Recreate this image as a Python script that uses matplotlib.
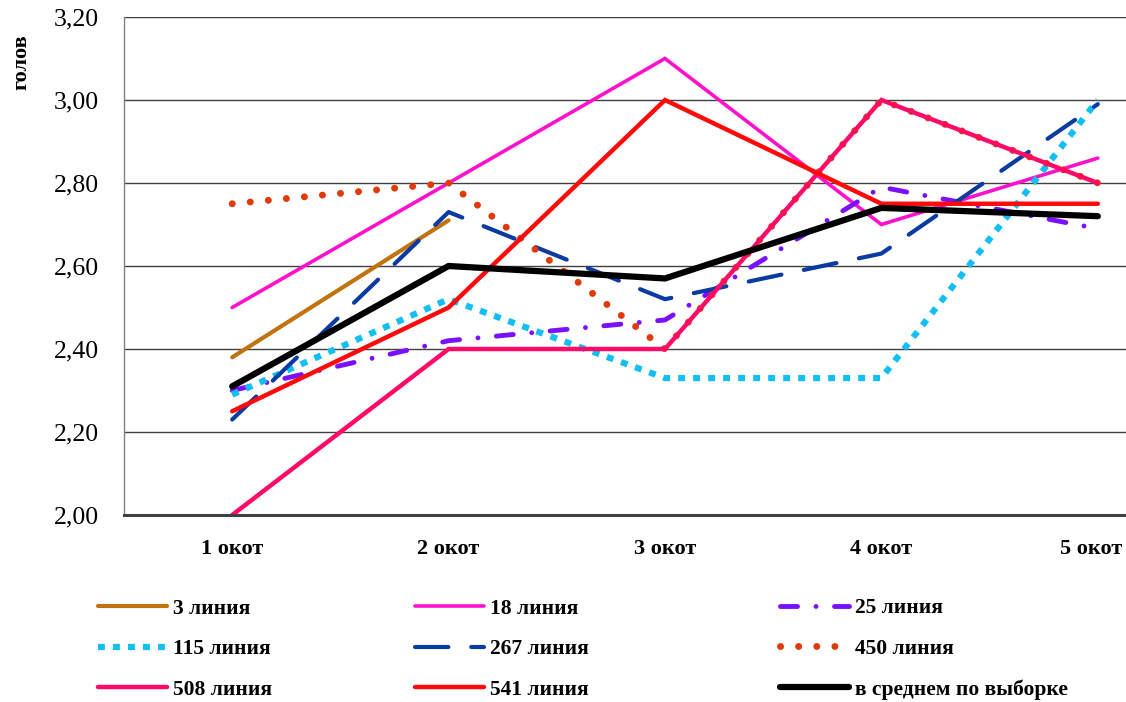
import matplotlib
matplotlib.use("Agg")
import matplotlib.pyplot as plt
from matplotlib.ticker import FuncFormatter, MultipleLocator
from matplotlib.transforms import ScaledTranslation
import numpy as np

categories = ["1 окот", "2 окот", "3 окот", "4 окот", "5 окот"]
line_3 = [2.38, 2.71, np.nan, np.nan, np.nan]
line_18 = [2.50, 2.80, 3.10, 2.70, 2.86]
line_25 = [2.30, 2.42, 2.47, 2.79, 2.69]
line_115 = [2.29, 2.52, 2.33, 2.33, 3.00]
line_267 = [2.23, 2.73, 2.52, 2.63, 2.99]
line_450 = [2.75, 2.80, 2.40, 3.00, 2.80]
line_508 = [2.00, 2.40, 2.40, 3.00, 2.80]
line_541 = [2.25, 2.50, 3.00, 2.75, 2.75]
line_avg = [2.31, 2.60, 2.57, 2.74, 2.72]
labels = ["3 линия", "18 линия", "25 линия", "115 линия", "267 линия",
          "450 линия", "508 линия", "541 линия", "в среднем по выборке"]

plt.rcParams['font.family'] = ['Liberation Serif', 'DejaVu Serif']

W, H = 1126, 702
fig = plt.figure(figsize=(W / 100, H / 100), dpi=100)
ax = fig.add_axes([124 / W, 1 - 515 / H, 1082 / W, 498 / H])

x = np.arange(len(categories))
styles = [
    dict(color="#C0730E", lw=3.0, ls="-"),
    dict(color="#FF11CC", lw=2.6, ls="-"),
    dict(color="#7A10FF", lw=3.5, ls=(0, (3.5, 3.8, 0.01, 3.8)), dash_capstyle="round"),
    dict(color="#12BFF2", lw=4.5, ls=(0, (1.1, 1.3)), dash_capstyle="butt"),
    dict(color="#0A3BA0", lw=3.0, ls=(0, (8, 5.5)), dash_capstyle="round"),
    dict(color="#E03A0A", lw=5.0, ls=(0, (0.01, 2.6)), dash_capstyle="round"),
    dict(color="#FF0A66", lw=3.2, ls="-"),
    dict(color="#FF0A0A", lw=3.2, ls="-"),
    dict(color="#000000", lw=4.5, ls="-"),
]
series = [line_3, line_18, line_25, line_115, line_267, line_450, line_508, line_541, line_avg]
handles = []
for s, st, lab in zip(series, styles, labels):
    h, = ax.plot(x, s, label=lab, solid_capstyle="round", solid_joinstyle="miter", **st)
    handles.append(h)

ax.set_xlim(-0.5, 4.5)
ax.set_ylim(2.0, 3.2)
ax.yaxis.set_major_locator(MultipleLocator(0.2))
ax.yaxis.set_major_formatter(FuncFormatter(lambda v, p: f"{v:.2f}".replace(".", ",")))
ax.set_xticks(x)
ax.set_xticklabels(categories, fontsize=16, fontweight="bold")
for t in ax.get_yticklabels():
    t.set_fontsize(18.5)
ax.tick_params(axis="y", length=0, pad=18)
ax.tick_params(axis="x", length=0, pad=17)
ax.grid(axis="y", color="#404040", lw=1.0)
ax.set_axisbelow(True)
for sp in ["top", "right"]:
    ax.spines[sp].set_visible(False)
ax.spines["left"].set_color("#808080")
ax.spines["left"].set_linewidth(1.0)
ax.spines["bottom"].set_color("#404040")
ax.spines["bottom"].set_linewidth(2.2)

# keep the last category label inside the picture
last = ax.get_xticklabels()[-1]
last.set_transform(last.get_transform() + ScaledTranslation(-7 / 100, 0, fig.dpi_scale_trans))

fig.text(21 / W, 1 - 62 / H, "голов", rotation=90, ha="center", va="center",
         fontsize=16, fontweight="bold")

col_x = [98, 415, 780]
cols = [[0, 3, 6], [1, 4, 7], [2, 5, 8]]
for cx, idxs in zip(col_x, cols):
    leg = fig.legend([handles[i] for i in idxs], [labels[i] for i in idxs],
                     loc="center left", bbox_to_anchor=(cx / W, 1 - 649 / H),
                     frameon=False, borderpad=0, borderaxespad=0,
                     handlelength=3.2, handletextpad=0.3, labelspacing=0.95,
                     prop=dict(family="Liberation Serif", weight="bold", size=15.5))

fig.savefig("out.png", dpi=100)
